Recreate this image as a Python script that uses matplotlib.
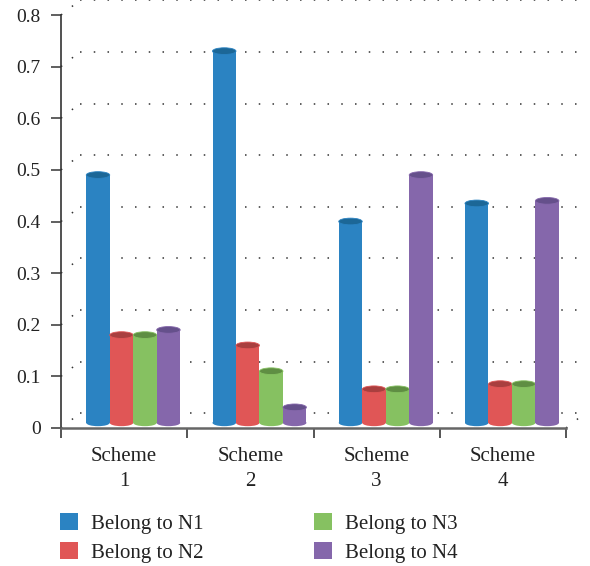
import numpy as np
import matplotlib
matplotlib.use("Agg")
from matplotlib import pyplot as plt
from matplotlib.patches import Rectangle, Ellipse, Patch

plt.rcParams['font.family'] = ['Liberation Serif', 'DejaVu Serif']

schemes = ['Scheme\n1', 'Scheme\n2', 'Scheme\n3', 'Scheme\n4']
series = ['Belong to N1', 'Belong to N2', 'Belong to N3', 'Belong to N4']
n1 = [0.48, 0.72, 0.39, 0.425]
n2 = [0.17, 0.15, 0.065, 0.075]
n3 = [0.17, 0.10, 0.065, 0.075]
n4 = [0.18, 0.03, 0.48, 0.43]
yticks = [0, 0.1, 0.2, 0.3, 0.4, 0.5, 0.6, 0.7, 0.8]

body = ['#2b83c2', '#e05656', '#86c161', '#8567ab']
tops = ['#1c6797', '#a93f3f', '#5f8e43', '#65508b']

fig = plt.figure(figsize=(5.9, 5.66), dpi=100)
W, H = 590, 566
ax = fig.add_axes([61 / W, (H - 428) / H, (566 - 61) / W, (428 - 15) / H])
ax.set_xlim(-0.5, 3.5)
ax.set_ylim(0, 0.8)

# depth of the fake 3D box (back wall offset) and of the bar row
dx, dy = 0.15, 0.0285
bx, by = 0.072, 0.01
w = 0.186
eh = 0.013

# back wall grid and the short depth lines at the left and right edges
for y in yticks:
    ax.plot([-0.5 + dx, 3.5 + dx], [y + dy, y + dy], color='#333',
            lw=1.1, ls=(0, (1, 8)), clip_on=False, zorder=1)
    ax.plot([-0.5, -0.5 + dx], [y, y + dy], color='#333',
            lw=1.1, ls=(0, (1, 8)), clip_on=False, zorder=1)
ax.plot([3.5, 3.5 + dx], [0, dy], color='#333', lw=1.1, ls=(0, (1, 8)),
        clip_on=False, zorder=1)

# cylinders
data = [n1, n2, n3, n4]
for g in range(len(schemes)):
    for i, vals in enumerate(data):
        v = vals[g]
        x0 = g - 2 * w + i * w + bx
        xc = x0 + w / 2
        z = 3 + g * 4 + i
        ax.add_patch(Ellipse((xc, by), w, eh, color=body[i], zorder=z, lw=0))
        ax.add_patch(Rectangle((x0, by), w, v, facecolor=body[i],
                               edgecolor='none', zorder=z))
        ax.add_patch(Ellipse((xc, by + v), w, eh, facecolor=tops[i],
                             edgecolor=body[i], lw=0.6, zorder=z))

# axes
for s in ['top', 'right']:
    ax.spines[s].set_visible(False)
ax.spines['left'].set_color('#333')
ax.spines['left'].set_linewidth(1.2)
ax.spines['bottom'].set_color('#666')
ax.spines['bottom'].set_linewidth(1.8)

ax.set_yticks(yticks)
ax.set_yticklabels([f'{t:g}' for t in yticks], fontsize=14, color='#222')
ax.tick_params(axis='y', direction='out', length=7.5, width=1.2,
               color='#444', pad=7)

ax.set_xticks([-0.5, 0.5, 1.5, 2.5, 3.5])
ax.set_xticklabels([])
ax.tick_params(axis='x', which='major', direction='out', length=7.5,
               width=1.4, color='#555')
ax.set_xticks(range(len(schemes)), minor=True)
ax.set_xticklabels(schemes, minor=True, fontsize=15, color='#222',
                   linespacing=1.4)
ax.tick_params(axis='x', which='minor', length=0, pad=14)

handles = [Patch(facecolor=c, edgecolor='none') for c in body]
fig.legend(handles, series, ncol=2,
           loc='upper left', bbox_to_anchor=(60 / W, 1 - 513 / H),
           frameon=False, fontsize=15, handlelength=0.87, handleheight=0.87,
           handletextpad=0.62, columnspacing=5.3, labelspacing=0.4,
           borderpad=0, borderaxespad=0, labelcolor='#222')

fig.savefig('out.png', dpi=100)
